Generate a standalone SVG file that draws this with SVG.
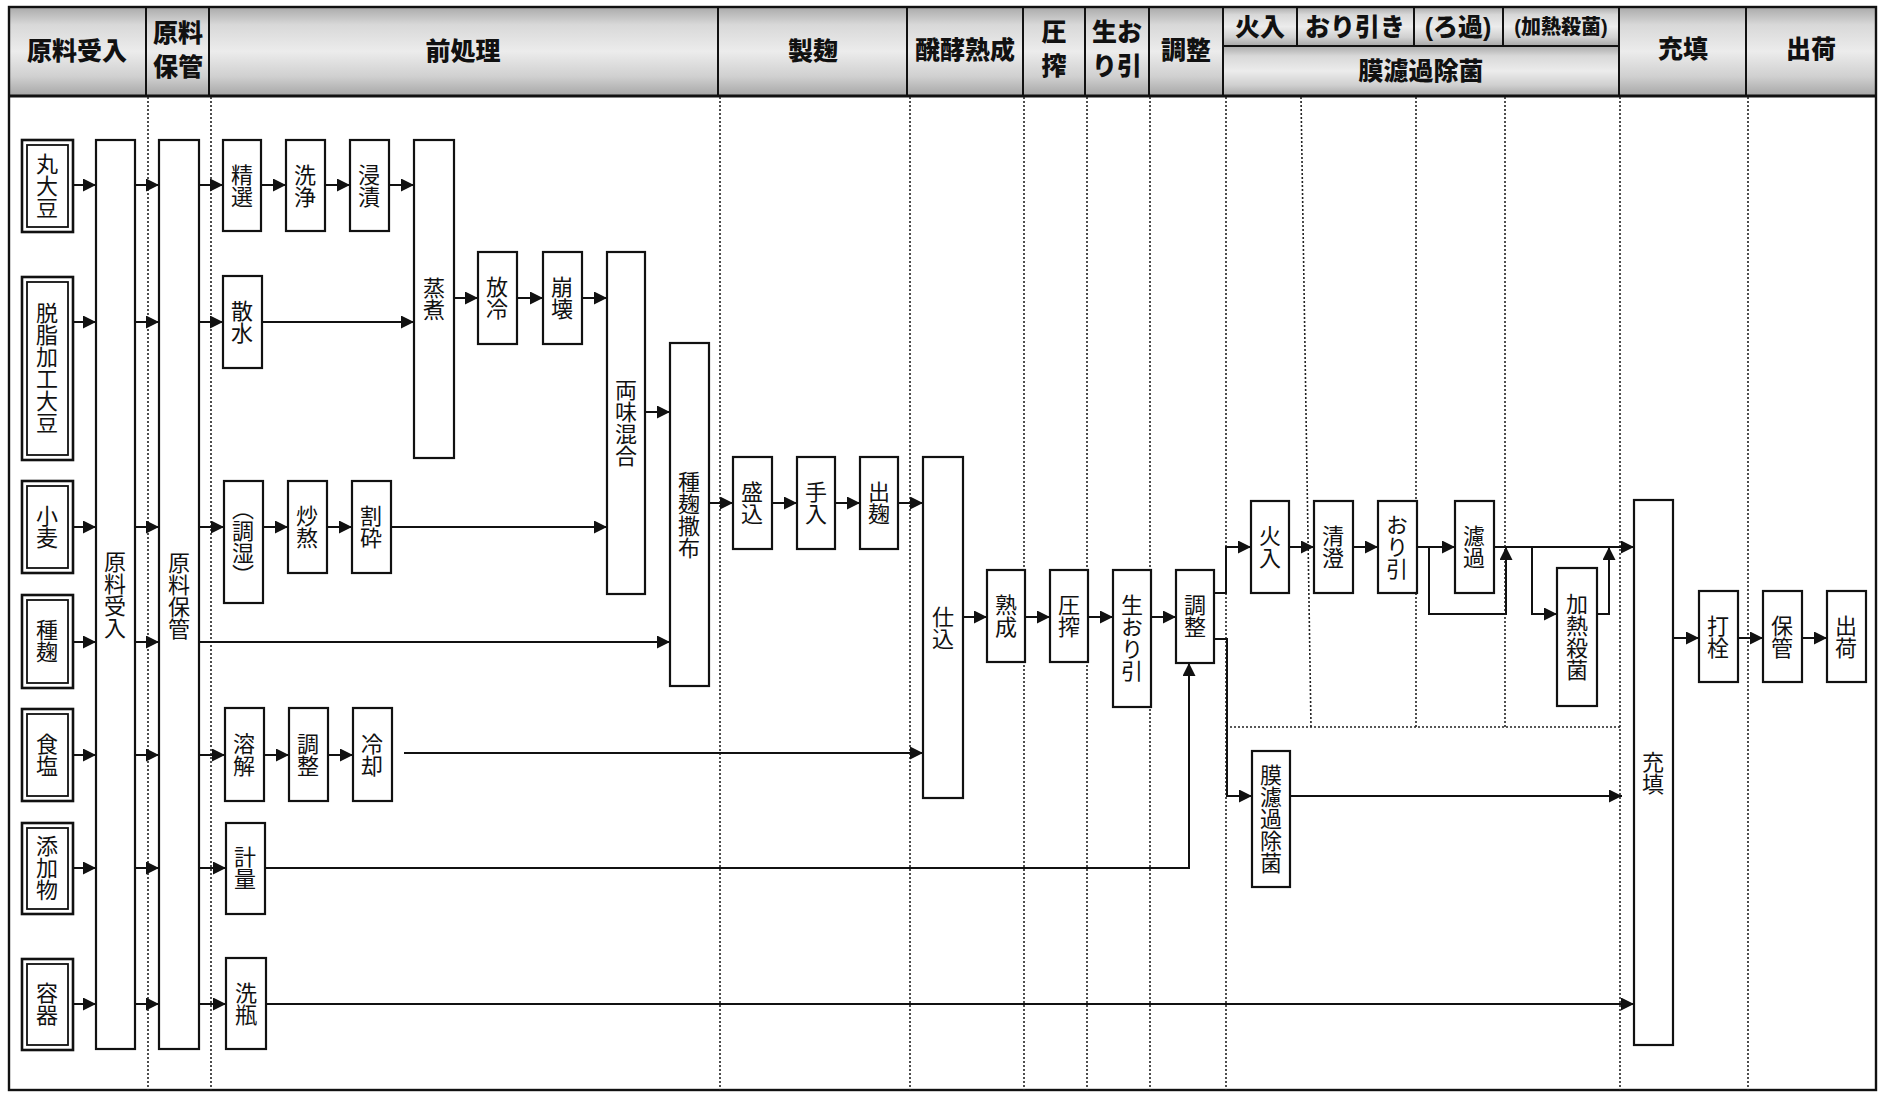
<svg xmlns="http://www.w3.org/2000/svg" width="1882" height="1093" viewBox="0 0 1882 1093">
<style>
.hc{fill:url(#hg);stroke:#111;stroke-width:2}
.ht{font-family:"Liberation Sans","Noto Sans CJK JP",sans-serif;font-size:25px;font-weight:900;text-anchor:middle;dominant-baseline:central;fill:#111}
.box{fill:#fff;stroke:#111;stroke-width:2.2}
.ro{fill:#fff;stroke:#111;stroke-width:2.6}
.ri{fill:none;stroke:#111;stroke-width:1.8}
.vt{font-family:"Liberation Sans","Noto Sans CJK JP",sans-serif;font-size:22px;writing-mode:vertical-rl;text-anchor:middle;dominant-baseline:central;fill:#111;transform:translate(-2.5px,0)}
.dot{fill:none;stroke:#222;stroke-width:1.6;stroke-dasharray:2 2}
.c{fill:none;stroke:#111;stroke-width:2}
.a{marker-end:url(#ah)}
</style>
<defs>
<linearGradient id="hg" x1="0" y1="0" x2="0" y2="1">
<stop offset="0" stop-color="#aaaaaa"/>
<stop offset="0.2" stop-color="#d8d8d8"/>
<stop offset="0.5" stop-color="#ececec"/>
<stop offset="0.78" stop-color="#d0d0d0"/>
<stop offset="1" stop-color="#a6a6a6"/>
</linearGradient>
<marker id="ah" markerUnits="userSpaceOnUse" markerWidth="14" markerHeight="14" refX="13" refY="6.5" orient="auto">
<path d="M0,0 L13,6.5 L0,13 z" fill="#111"/>
</marker>
</defs>
<rect x="0" y="0" width="1882" height="1093" fill="#fff"/>

<g id="header">
<rect class="hc" x="9" y="7" width="137" height="89"/>
<rect class="hc" x="146" y="7" width="63" height="89"/>
<rect class="hc" x="209" y="7" width="509" height="89"/>
<rect class="hc" x="718" y="7" width="189" height="89"/>
<rect class="hc" x="907" y="7" width="116" height="89"/>
<rect class="hc" x="1023" y="7" width="62" height="89"/>
<rect class="hc" x="1085" y="7" width="64" height="89"/>
<rect class="hc" x="1149" y="7" width="74" height="89"/>
<rect class="hc" x="1223" y="7" width="74" height="39"/>
<rect class="hc" x="1297" y="7" width="117" height="39"/>
<rect class="hc" x="1414" y="7" width="89" height="39"/>
<rect class="hc" x="1503" y="7" width="116" height="39"/>
<rect class="hc" x="1223" y="46" width="396" height="50"/>
<rect class="hc" x="1619" y="7" width="127" height="89"/>
<rect class="hc" x="1746" y="7" width="130" height="89"/>
<text class="ht" x="77" y="51">原料受入</text>
<text class="ht" x="178" y="33">原料</text>
<text class="ht" x="178" y="67">保管</text>
<text class="ht" x="463" y="51">前処理</text>
<text class="ht" x="813" y="51">製麹</text>
<text class="ht" x="965" y="50">醗酵熟成</text>
<text class="ht" x="1054" y="32">圧</text>
<text class="ht" x="1054" y="66">搾</text>
<text class="ht" x="1117" y="32">生お</text>
<text class="ht" x="1117" y="66">り引</text>
<text class="ht" x="1186" y="50">調整</text>
<text class="ht" x="1260" y="27">火入</text>
<text class="ht" x="1355" y="27">おり引き</text>
<text class="ht" x="1458" y="27">(ろ過)</text>
<text class="ht" x="1561" y="27" style="font-size:20px">(加熱殺菌)</text>
<text class="ht" x="1421" y="71">膜濾過除菌</text>
<text class="ht" x="1683" y="49">充填</text>
<text class="ht" x="1811" y="49">出荷</text>
</g>

<g id="frame">
<rect x="9" y="7" width="1867" height="1083" fill="none" stroke="#111" stroke-width="2.4"/>
<line x1="9" y1="96" x2="1876" y2="96" stroke="#111" stroke-width="3"/>
</g>

<g id="lanes">
<line class="dot" x1="148" y1="97" x2="148" y2="1090"/>
<line class="dot" x1="211" y1="97" x2="211" y2="1090"/>
<line class="dot" x1="720" y1="97" x2="720" y2="1090"/>
<line class="dot" x1="910" y1="97" x2="910" y2="1090"/>
<line class="dot" x1="1024" y1="97" x2="1024" y2="1090"/>
<line class="dot" x1="1087" y1="97" x2="1087" y2="1090"/>
<line class="dot" x1="1150" y1="97" x2="1150" y2="1090"/>
<line class="dot" x1="1226" y1="97" x2="1226" y2="1090"/>
<line class="dot" x1="1301" y1="97" x2="1311" y2="727"/>
<line class="dot" x1="1416" y1="97" x2="1416" y2="727"/>
<line class="dot" x1="1505" y1="97" x2="1505" y2="727"/>
<line class="dot" x1="1226" y1="727" x2="1620" y2="727"/>
<line class="dot" x1="1620" y1="97" x2="1620" y2="1090"/>
<line class="dot" x1="1748" y1="97" x2="1748" y2="1090"/>
</g>

<g id="connectors">
<path class="c a" d="M73,185 H96"/>
<path class="c a" d="M135,185 H159"/>
<path class="c a" d="M199,185 H223"/>
<path class="c a" d="M261,185 H286"/>
<path class="c a" d="M325,185 H350"/>
<path class="c a" d="M389,185 H414"/>
<path class="c a" d="M73,322 H96"/>
<path class="c a" d="M135,322 H159"/>
<path class="c a" d="M199,322 H223"/>
<path class="c a" d="M262,322 H414"/>
<path class="c a" d="M454,298 H478"/>
<path class="c a" d="M517,298 H543"/>
<path class="c a" d="M582,298 H607"/>
<path class="c a" d="M645,412 H670"/>
<path class="c a" d="M73,527 H96"/>
<path class="c a" d="M135,527 H159"/>
<path class="c a" d="M199,527 H224"/>
<path class="c a" d="M263,527 H288"/>
<path class="c a" d="M327,527 H352"/>
<path class="c a" d="M391,527 H607"/>
<path class="c a" d="M73,642 H96"/>
<path class="c a" d="M135,642 H159"/>
<path class="c a" d="M199,642 H670"/>
<path class="c a" d="M73,755 H96"/>
<path class="c a" d="M135,755 H159"/>
<path class="c a" d="M199,755 H225"/>
<path class="c a" d="M264,755 H289"/>
<path class="c a" d="M328,755 H353"/>
<path class="c a" d="M404,753 H923"/>
<path class="c a" d="M73,868 H96"/>
<path class="c a" d="M135,868 H159"/>
<path class="c a" d="M199,868 H226"/>
<path class="c a" d="M265,868 H1189 V663"/>
<path class="c a" d="M73,1004 H96"/>
<path class="c a" d="M135,1004 H159"/>
<path class="c a" d="M199,1004 H226"/>
<path class="c a" d="M266,1004 H1634"/>
<path class="c a" d="M709,503 H733"/>
<path class="c a" d="M772,503 H797"/>
<path class="c a" d="M835,503 H860"/>
<path class="c a" d="M898,503 H923"/>
<path class="c a" d="M963,617 H987"/>
<path class="c a" d="M1025,617 H1050"/>
<path class="c a" d="M1088,617 H1113"/>
<path class="c a" d="M1151,617 H1176"/>
<path class="c a" d="M1214,593 H1226 V547 H1251"/>
<path class="c a" d="M1214,639 H1227 V796 H1252"/>
<path class="c a" d="M1289,547 H1314"/>
<path class="c a" d="M1353,547 H1378"/>
<path class="c a" d="M1417,547 H1455"/>
<path class="c a" d="M1429,547 V614 H1506 V547"/>
<path class="c a" d="M1494,547 H1634"/>
<path class="c a" d="M1532,547 V614 H1557"/>
<path class="c a" d="M1597,614 H1609 V547"/>
<path class="c a" d="M1290,796 H1622"/>
<path class="c a" d="M1673,638 H1699"/>
<path class="c a" d="M1738,638 H1763"/>
<path class="c a" d="M1802,638 H1827"/>
</g>

<g id="n-marudaizu"><rect class="ro" x="22" y="140" width="51" height="92"/><rect class="ri" x="27" y="145" width="41" height="82"/><text class="vt" x="47" y="186">丸大豆</text></g>
<g id="n-dasshi"><rect class="ro" x="22" y="277" width="51" height="183"/><rect class="ri" x="27" y="282" width="41" height="173"/><text class="vt" x="47" y="368">脱脂加工大豆</text></g>
<g id="n-komugi"><rect class="ro" x="22" y="481" width="51" height="92"/><rect class="ri" x="27" y="486" width="41" height="82"/><text class="vt" x="47" y="527">小麦</text></g>
<g id="n-tanekoji"><rect class="ro" x="22" y="595" width="51" height="93"/><rect class="ri" x="27" y="600" width="41" height="83"/><text class="vt" x="47" y="641">種麹</text></g>
<g id="n-shokuen"><rect class="ro" x="22" y="709" width="51" height="92"/><rect class="ri" x="27" y="714" width="41" height="82"/><text class="vt" x="47" y="755">食塩</text></g>
<g id="n-tenkabutsu"><rect class="ro" x="22" y="823" width="51" height="91"/><rect class="ri" x="27" y="828" width="41" height="81"/><text class="vt" x="47" y="868">添加物</text></g>
<g id="n-yoki"><rect class="ro" x="22" y="959" width="51" height="91"/><rect class="ri" x="27" y="964" width="41" height="81"/><text class="vt" x="47" y="1004">容器</text></g>

<g id="n-ukeire"><rect class="box" x="96" y="140" width="39" height="909"/><text class="vt" x="115" y="595">原料受入</text></g>
<g id="n-hokan1"><rect class="box" x="159" y="140" width="40" height="909"/><text class="vt" x="179" y="596">原料保管</text></g>

<g id="n-seisen"><rect class="box" x="223" y="140" width="38" height="91"/><text class="vt" x="242" y="186">精選</text></g>
<g id="n-senjo"><rect class="box" x="286" y="140" width="39" height="91"/><text class="vt" x="305" y="186">洗浄</text></g>
<g id="n-shinseki"><rect class="box" x="350" y="140" width="39" height="91"/><text class="vt" x="369" y="186">浸漬</text></g>
<g id="n-joshu"><rect class="box" x="414" y="140" width="40" height="318"/><text class="vt" x="434" y="299">蒸煮</text></g>
<g id="n-sansui"><rect class="box" x="223" y="276" width="39" height="92"/><text class="vt" x="242" y="322">散水</text></g>
<g id="n-horei"><rect class="box" x="478" y="252" width="39" height="92"/><text class="vt" x="497" y="298">放冷</text></g>
<g id="n-hokai"><rect class="box" x="543" y="252" width="39" height="92"/><text class="vt" x="562" y="298">崩壊</text></g>
<g id="n-ryomi"><rect class="box" x="607" y="252" width="38" height="342"/><text class="vt" x="626" y="423">両味混合</text></g>
<g id="n-sanpu"><rect class="box" x="670" y="343" width="39" height="343"/><text class="vt" x="689" y="515">種麹撒布</text></g>
<g id="n-choshitsu"><rect class="box" x="224" y="481" width="39" height="122"/><text class="vt" x="243" y="542">（調湿）</text></g>
<g id="n-iri"><rect class="box" x="288" y="481" width="39" height="92"/><text class="vt" x="307" y="527">炒熬</text></g>
<g id="n-wari"><rect class="box" x="352" y="481" width="39" height="92"/><text class="vt" x="371" y="527">割砕</text></g>
<g id="n-yokai"><rect class="box" x="225" y="708" width="39" height="93"/><text class="vt" x="244" y="755">溶解</text></g>
<g id="n-chosei1"><rect class="box" x="289" y="708" width="39" height="93"/><text class="vt" x="308" y="755">調整</text></g>
<g id="n-reikyaku"><rect class="box" x="353" y="708" width="39" height="93"/><text class="vt" x="372" y="755">冷却</text></g>
<g id="n-keiryo"><rect class="box" x="226" y="823" width="39" height="91"/><text class="vt" x="245" y="868">計量</text></g>
<g id="n-senbin"><rect class="box" x="226" y="958" width="40" height="91"/><text class="vt" x="246" y="1004">洗瓶</text></g>

<g id="n-morikomi"><rect class="box" x="733" y="457" width="39" height="92"/><text class="vt" x="752" y="503">盛込</text></g>
<g id="n-teire"><rect class="box" x="797" y="457" width="38" height="92"/><text class="vt" x="816" y="503">手入</text></g>
<g id="n-dekoji"><rect class="box" x="860" y="457" width="38" height="92"/><text class="vt" x="879" y="503">出麹</text></g>
<g id="n-shikomi"><rect class="box" x="923" y="457" width="40" height="341"/><text class="vt" x="943" y="628">仕込</text></g>
<g id="n-jukusei"><rect class="box" x="987" y="570" width="38" height="92"/><text class="vt" x="1006" y="616">熟成</text></g>
<g id="n-assaku"><rect class="box" x="1050" y="570" width="38" height="92"/><text class="vt" x="1069" y="616">圧搾</text></g>
<g id="n-namaoribiki"><rect class="box" x="1113" y="570" width="38" height="137"/><text class="vt" x="1132" y="638">生おり引</text></g>
<g id="n-chosei2"><rect class="box" x="1176" y="570" width="38" height="93"/><text class="vt" x="1195" y="616">調整</text></g>
<g id="n-hiire"><rect class="box" x="1251" y="501" width="38" height="92"/><text class="vt" x="1270" y="547">火入</text></g>
<g id="n-seicho"><rect class="box" x="1314" y="501" width="39" height="92"/><text class="vt" x="1333" y="547">清澄</text></g>
<g id="n-oribiki"><rect class="box" x="1378" y="501" width="39" height="92"/><text class="vt" x="1397" y="547">おり引</text></g>
<g id="n-roka"><rect class="box" x="1455" y="501" width="39" height="92"/><text class="vt" x="1474" y="547">濾過</text></g>
<g id="n-kanetsu"><rect class="box" x="1557" y="568" width="40" height="138"/><text class="vt" x="1577" y="637">加熱殺菌</text></g>
<g id="n-makuroka"><rect class="box" x="1252" y="751" width="38" height="136"/><text class="vt" x="1271" y="819">膜濾過除菌</text></g>
<g id="n-juten"><rect class="box" x="1634" y="500" width="39" height="545"/><text class="vt" x="1653" y="773">充填</text></g>
<g id="n-dasen"><rect class="box" x="1699" y="591" width="39" height="91"/><text class="vt" x="1718" y="637">打栓</text></g>
<g id="n-hokan2"><rect class="box" x="1763" y="591" width="39" height="91"/><text class="vt" x="1782" y="637">保管</text></g>
<g id="n-shukka"><rect class="box" x="1827" y="591" width="39" height="91"/><text class="vt" x="1846" y="637">出荷</text></g>
</svg>
